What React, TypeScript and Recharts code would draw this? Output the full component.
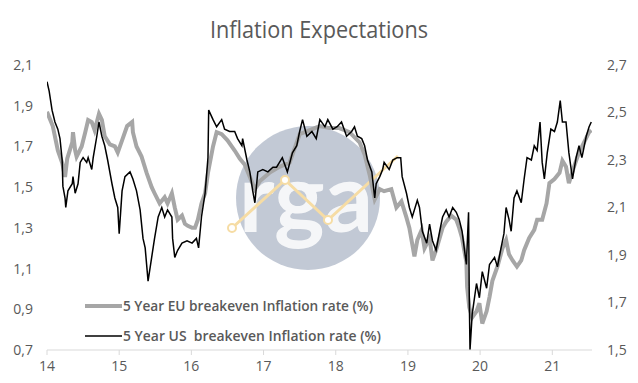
import { LineChart, Line, XAxis, YAxis } from 'recharts';

// 5 Year EU breakeven (left axis)
const euYear = [
  14.0, 14.08, 14.15, 14.21, 14.25, 14.28, 14.35, 14.36, 14.39, 14.41, 14.48, 14.53, 14.57, 14.62, 14.66, 14.72,
  14.76, 14.8, 14.87, 14.94, 14.98, 15.04, 15.11, 15.18, 15.19, 15.24, 15.31, 15.38, 15.45, 15.49, 15.56, 15.63,
  15.67, 15.73, 15.77, 15.81, 15.87, 15.91, 15.95, 16.01, 16.05, 16.09, 16.14, 16.19, 16.23, 16.3, 16.35, 16.42,
  16.5, 16.6, 16.67, 16.74, 16.81, 16.88, 16.95, 17.08, 17.22, 17.36, 17.5, 17.64, 17.78, 17.91, 18.05, 18.19,
  18.33, 18.4, 18.47, 18.54, 18.61, 18.67, 18.77, 18.84, 18.91, 18.98, 19.02, 19.06, 19.09, 19.13, 19.19, 19.23,
  19.3, 19.34, 19.39, 19.44, 19.48, 19.53, 19.6, 19.67, 19.71, 19.75, 19.81, 19.82, 19.85, 19.89, 19.95, 19.99,
  20.03, 20.09, 20.13, 20.17, 20.24, 20.31, 20.36, 20.4, 20.45, 20.51, 20.57, 20.61, 20.68, 20.75, 20.79, 20.86,
  20.92, 20.96, 21.03, 21.1, 21.14, 21.19, 21.23, 21.3, 21.37, 21.44, 21.51, 21.54,
];
const euRate = [
  1.87, 1.8, 1.68, 1.62, 1.55, 1.64, 1.72, 1.77, 1.68, 1.65, 1.7, 1.77, 1.83, 1.82, 1.78, 1.86,
  1.83, 1.75, 1.71, 1.7, 1.67, 1.73, 1.8, 1.82, 1.77, 1.7, 1.65, 1.57, 1.5, 1.47, 1.42, 1.45,
  1.42, 1.47, 1.4, 1.34, 1.36, 1.32, 1.31, 1.3, 1.3, 1.34, 1.42, 1.47, 1.57, 1.7, 1.77, 1.76,
  1.73, 1.68, 1.64, 1.61, 1.55, 1.49, 1.53, 1.57, 1.6, 1.62, 1.76, 1.78, 1.8, 1.79, 1.79, 1.77,
  1.72, 1.66, 1.56, 1.44, 1.49, 1.48, 1.49, 1.4, 1.43, 1.35, 1.3, 1.22, 1.16, 1.24, 1.29, 1.2,
  1.25, 1.14, 1.19, 1.25, 1.3, 1.33, 1.36, 1.34, 1.3, 1.25, 1.13, 1.01, 0.91, 0.86, 0.89, 0.93,
  0.83, 0.89, 0.96, 1.04, 1.11, 1.2, 1.24, 1.17, 1.14, 1.11, 1.14, 1.19, 1.25, 1.29, 1.34, 1.34,
  1.42, 1.52, 1.54, 1.57, 1.63, 1.6, 1.52, 1.6, 1.67, 1.72, 1.77, 1.78,
];

// 5 Year US breakeven (right axis)
const usYear = [
  14.0, 14.03, 14.07, 14.11, 14.15, 14.18, 14.21, 14.22, 14.25, 14.26, 14.29, 14.35, 14.36, 14.39, 14.43, 14.46,
  14.5, 14.55, 14.57, 14.62, 14.64, 14.69, 14.72, 14.76, 14.8, 14.84, 14.9, 14.94, 14.98, 15.0, 15.04, 15.08,
  15.15, 15.19, 15.24, 15.29, 15.33, 15.36, 15.38, 15.4, 15.45, 15.49, 15.54, 15.59, 15.63, 15.67, 15.73, 15.74,
  15.77, 15.81, 15.87, 15.94, 16.01, 16.07, 16.1, 16.14, 16.19, 16.23, 16.24, 16.3, 16.35, 16.42, 16.46, 16.53,
  16.6, 16.64, 16.7, 16.71, 16.77, 16.81, 16.85, 16.88, 16.92, 16.99, 17.06, 17.13, 17.18, 17.26, 17.33, 17.4,
  17.46, 17.5, 17.54, 17.6, 17.67, 17.73, 17.78, 17.85, 17.89, 17.96, 18.02, 18.08, 18.15, 18.22, 18.26, 18.3,
  18.36, 18.4, 18.44, 18.5, 18.54, 18.56, 18.61, 18.65, 18.67, 18.74, 18.79, 18.85, 18.9, 18.92, 18.98, 19.02,
  19.06, 19.13, 19.16, 19.2, 19.26, 19.3, 19.34, 19.39, 19.44, 19.48, 19.53, 19.57, 19.62, 19.67, 19.71, 19.75,
  19.81, 19.84, 19.85, 19.86, 19.89, 19.95, 19.99, 20.03, 20.09, 20.13, 20.2, 20.24, 20.29, 20.33, 20.36, 20.4,
  20.43, 20.47, 20.51, 20.57, 20.61, 20.65, 20.71, 20.75, 20.79, 20.83, 20.86, 20.89, 20.93, 20.98, 21.03, 21.07,
  21.11, 21.14, 21.19, 21.23, 21.28, 21.33, 21.37, 21.41, 21.47, 21.51, 21.54,
];
const usRate = [
  2.63, 2.59, 2.51, 2.46, 2.43, 2.39, 2.3, 2.19, 2.14, 2.1, 2.17, 2.2, 2.23, 2.16, 2.2, 2.29,
  2.31, 2.29, 2.31, 2.26, 2.31, 2.4, 2.46, 2.4, 2.36, 2.3, 2.2, 2.14, 2.1, 1.99, 2.17, 2.23,
  2.25, 2.22, 2.17, 2.09, 1.97, 1.93, 1.86, 1.79, 1.89, 1.97, 2.06, 2.1, 2.06, 2.09, 2.06, 1.97,
  1.89, 1.92, 1.95, 1.96, 1.95, 1.97, 1.93, 2.06, 2.16, 2.31, 2.51, 2.47, 2.44, 2.47, 2.43, 2.42,
  2.42, 2.39, 2.36, 2.39, 2.3, 2.25, 2.17, 2.12, 2.25, 2.26, 2.25, 2.27, 2.27, 2.31, 2.25, 2.33,
  2.36, 2.42, 2.47, 2.4, 2.42, 2.39, 2.47, 2.44, 2.47, 2.43, 2.44, 2.46, 2.4, 2.42, 2.44, 2.4,
  2.39, 2.36, 2.3, 2.25, 2.14, 2.2, 2.23, 2.26, 2.29, 2.26, 2.3, 2.31, 2.31, 2.23, 2.16, 2.1,
  2.06, 2.13, 2.1, 2.0, 1.95, 2.03, 1.96, 1.92, 2.0, 2.06, 2.09, 2.06, 2.1, 2.08, 2.05, 2.0,
  1.86, 2.08, 1.72, 1.5, 1.65, 1.78, 1.72, 1.83, 1.76, 1.86, 1.89, 1.85, 1.93, 1.99, 2.1, 2.05,
  2.0, 2.14, 2.17, 2.12, 2.22, 2.31, 2.3, 2.36, 2.34, 2.46, 2.29, 2.22, 2.33, 2.43, 2.42, 2.46,
  2.55, 2.46, 2.46, 2.33, 2.22, 2.31, 2.36, 2.31, 2.4, 2.44, 2.46,
];

const yearTicks = [14, 15, 16, 17, 18, 19, 20, 21];
const leftTicks = [0.7, 0.9, 1.1, 1.3, 1.5, 1.7, 1.9, 2.1];
const rightTicks = [1.5, 1.7, 1.9, 2.1, 2.3, 2.5, 2.7];

const EU_LABEL = '5 Year EU breakeven Inflation rate (%)';
const US_LABEL = '5 Year US  breakeven Inflation rate (%)';

const data = [
  ...euYear.map((year, i) => ({ year, eu: euRate[i] })),
  ...usYear.map((year, i) => ({ year, us: usRate[i] })),
].sort((a, b) => a.year - b.year);

const comma = (v: number) => v.toFixed(1).replace('.', ',');
const tickStyle = { fontSize: 14, fill: '#595959', fontFamily: 'Open Sans' };

function LegendBox() {
  const rows = [
    { label: EU_LABEL, color: '#a6a6a6', w: 4, len: 250 },
    { label: US_LABEL, color: '#000', w: 1.5, len: 258 },
  ];
  return (
    <svg width={340} height={60} style={{ position: 'absolute', left: 80, top: 291 }}>
      {rows.map((r, i) => (
        <g key={r.label} transform={`translate(0, ${15 + i * 30})`}>
          <line x1={5} x2={42} y1={0} y2={0} stroke={r.color} strokeWidth={r.w} />
          <text x={43} y={5} fontSize={14} fontWeight={600} fill="#595959" fontFamily="Open Sans"
            textLength={r.len} lengthAdjust="spacingAndGlyphs" style={{ whiteSpace: 'pre' }}>{r.label}</text>
        </g>
      ))}
    </svg>
  );
}

export default function App() {
  return (
    <div style={{ position: 'absolute', left: 0, top: 0, width: 638, height: 383, background: '#fff', overflow: 'hidden' }}>
      {/* watermark */}
      <svg width={638} height={383} style={{ position: 'absolute', left: 0, top: 0 }}>
        <circle cx={308} cy={198} r={72} fill="#b3bccb" opacity={0.8} />
        <text x={306} y={232} textAnchor="middle" fontSize={96} fontWeight={700} fill="#fff" fontFamily="Lato" opacity={0.85}>rga</text>
        <polyline points="232,228 285,180 328,220 398,156" fill="none" stroke="#f6dca4" strokeWidth={3} />
        {[[232, 228], [285, 180], [328, 220]].map(([cx, cy]) => (
          <circle key={cx} cx={cx} cy={cy} r={4} fill="#fff" stroke="#f6dca4" strokeWidth={2} />
        ))}
      </svg>
      <svg width={638} height={50} style={{ position: 'absolute', left: 0, top: 0 }}>
        <text x={319} y={38} textAnchor="middle" fontSize={23} fill="#595959" fontFamily="Open Sans"
          textLength={218} lengthAdjust="spacingAndGlyphs">Inflation Expectations</text>
      </svg>
      <div style={{ position: 'absolute', left: 0, top: 0 }}>
        <LineChart width={638} height={383} data={data} margin={{ top: 65, right: 0, bottom: 0, left: 0 }}>
          <XAxis dataKey="year" type="number" domain={[14, 21.55]} ticks={yearTicks} allowDataOverflow height={33}
            tick={tickStyle} axisLine={{ stroke: '#d9d9d9' }} tickLine={{ stroke: '#d9d9d9' }} tickSize={5} tickMargin={6} />
          <YAxis yAxisId="left" orientation="left" width={47} domain={[0.7, 2.1]} ticks={leftTicks}
            tickFormatter={comma} tick={tickStyle} axisLine={false} tickLine={false} tickMargin={8} />
          <YAxis yAxisId="right" orientation="right" width={46} domain={[1.5, 2.7]} ticks={rightTicks}
            tickFormatter={comma} tick={tickStyle} axisLine={false} tickLine={false} tickMargin={9} />
          <Line yAxisId="left" dataKey="eu" stroke="#a6a6a6" strokeWidth={4} dot={false} connectNulls isAnimationActive={false} />
          <Line yAxisId="right" dataKey="us" stroke="#000" strokeWidth={1.5} dot={false} connectNulls isAnimationActive={false} />
        </LineChart>
      </div>
      <LegendBox />
    </div>
  );
}
